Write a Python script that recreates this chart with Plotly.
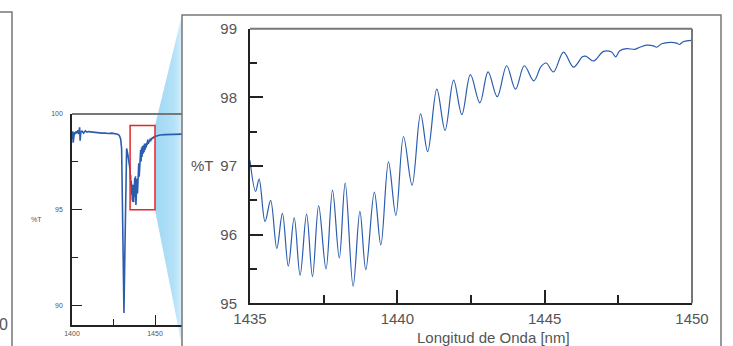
import plotly.graph_objects as go

W, H = 733, 346

# High-resolution scan of the 1435-1450 nm window (%T)
zoom_nm = [1435.00, 1435.19, 1435.31, 1435.51, 1435.70, 1435.91, 1436.10, 1436.30,
           1436.50, 1436.70, 1436.92, 1437.12, 1437.33, 1437.58, 1437.80, 1438.03,
           1438.23, 1438.50, 1438.73, 1438.93, 1439.22, 1439.44, 1439.70, 1439.95,
           1440.21, 1440.50, 1440.79, 1441.03, 1441.34, 1441.62, 1441.91, 1442.19,
           1442.48, 1442.80, 1443.08, 1443.39, 1443.71, 1444.01, 1444.31, 1444.63,
           1444.88, 1445.05, 1445.30, 1445.64, 1445.98, 1446.28, 1446.39, 1446.66,
           1447.00, 1447.27, 1447.41, 1447.55, 1447.78, 1448.06, 1448.23, 1448.46,
           1448.69, 1448.80, 1448.97, 1449.26, 1449.48, 1449.57, 1449.70, 1450.00]
zoom_T = [97.08, 96.63, 96.81, 96.19, 96.50, 95.80, 96.31, 95.54,
          96.25, 95.41, 96.30, 95.39, 96.42, 95.50, 96.65, 95.66,
          96.75, 95.25, 96.34, 95.49, 96.62, 95.85, 97.06, 96.28,
          97.43, 96.72, 97.76, 97.21, 98.12, 97.52, 98.25, 97.75,
          98.33, 97.92, 98.37, 98.01, 98.46, 98.12, 98.46, 98.24,
          98.45, 98.50, 98.37, 98.66, 98.44, 98.59, 98.60, 98.53,
          98.67, 98.66, 98.59, 98.68, 98.71, 98.70, 98.73, 98.76,
          98.75, 98.73, 98.78, 98.80, 98.79, 98.77, 98.81, 98.83]

# Wide survey scan, outside the zoom window
survey_left_nm = [1400.0, 1400.4, 1400.7, 1401.0, 1401.5, 1402.0, 1402.5, 1403.0,
                  1403.6, 1404.0, 1404.6, 1404.9, 1405.3, 1406.0, 1407.0, 1408.0,
                  1409.0, 1410.0, 1412.0, 1414.0, 1416.0, 1418.0, 1420.0, 1422.0,
                  1424.0, 1426.0, 1427.5, 1428.5, 1429.3, 1429.9, 1430.4, 1430.9,
                  1431.3, 1431.8, 1432.3, 1432.9, 1433.6, 1434.3]
survey_left_T = [98.70, 99.10, 98.50, 98.90, 99.05, 98.95, 99.10, 99.00,
                 99.15, 98.95, 99.30, 98.60, 99.05, 99.10, 99.00, 99.12,
                 99.05, 99.08, 99.05, 99.02, 99.03, 99.00, 99.00, 98.98,
                 99.00, 98.97, 98.94, 98.88, 98.70, 98.20, 95.00, 91.50,
                 89.60, 92.50, 95.80, 98.20, 97.90, 97.50]
survey_right_nm = [1451.0, 1453.0, 1456.0, 1460.0, 1463.0, 1467.0]
survey_right_T = [98.86, 98.90, 98.92, 98.93, 98.94, 98.95]

# Zoom window marked on the survey plot
win_nm = [1435, 1450]
win_T = [95, 99.4]

# Axis ticks
main_xticks = [1435, 1440, 1445, 1450]
main_yticks = [95, 96, 97, 98, 99]
survey_xticks = [1400, 1450]
survey_yticks = [90, 95, 100]

LINE_BLUE = "#2b5dad"
TXT = "#555555"
FONT = "Liberation Sans, Arial, sans-serif"

# Layout geometry (pixels)
MAIN_L, MAIN_R, MAIN_T, MAIN_B = 250, 692, 28.7, 303.3
SUR_L, SUR_R, SUR_T, SUR_B = 72, 182, 114, 324.5
SUR_PX_PER_NM = 83 / 50
SUR_XMAX = 1400 + (SUR_R - SUR_L) / SUR_PX_PER_NM
PANEL_L, PANEL_T, PANEL_R = 182, 15, 721


def px(x):
    return x / W


def py(y):
    return 1 - y / H


def sur_px(nm, t):
    """Pixel position of a survey-plot data point."""
    x = SUR_L + (nm - 1400) * SUR_PX_PER_NM
    y = SUR_B - (t - 89) * (SUR_B - SUR_T) / 11
    return x, y


fig = go.Figure()

# Light-blue funnel linking the zoom window to the enlarged panel
bx_top = sur_px(win_nm[1], win_T[1])
bx_bot = sur_px(win_nm[1], win_T[0])
fx = [bx_top[0], PANEL_L, PANEL_L, bx_bot[0], bx_top[0]]
fy = [bx_top[1], PANEL_T, H, bx_bot[1], bx_top[1]]
fig.add_trace(go.Scatter(
    x=fx, y=fy, mode="lines", fill="toself", line=dict(width=0),
    fillgradient=dict(type="horizontal",
                      colorscale=[[0, "#9fd8f4"], [0.7, "#b4e1f8"], [1, "#d6eefb"]]),
    hoverinfo="skip", showlegend=False, xaxis="x", yaxis="y"))

# Survey spectrum
fig.add_trace(go.Scatter(
    x=survey_left_nm + zoom_nm + survey_right_nm,
    y=survey_left_T + zoom_T + survey_right_T,
    mode="lines", line=dict(color=LINE_BLUE, width=1.6),
    hoverinfo="skip", showlegend=False, xaxis="x2", yaxis="y2"))

# Enlarged spectrum
fig.add_trace(go.Scatter(
    x=zoom_nm, y=zoom_T, mode="lines",
    line=dict(color=LINE_BLUE, width=1.2, shape="spline", smoothing=1.0),
    hoverinfo="skip", showlegend=False, xaxis="x3", yaxis="y3"))

axis_common = dict(showgrid=False, zeroline=False, showline=True,
                   linecolor="#222", ticks="inside", tickcolor="#222")

fig.update_layout(
    width=W, height=H,
    margin=dict(l=0, r=0, t=0, b=0, pad=0, autoexpand=False),
    paper_bgcolor="white", plot_bgcolor="rgba(0,0,0,0)",
    font=dict(family=FONT, color=TXT),
    xaxis=dict(domain=[0, 1], range=[0, W], visible=False, fixedrange=True),
    yaxis=dict(domain=[0, 1], range=[H, 0], visible=False, fixedrange=True),
    xaxis2=dict(domain=[px(SUR_L), px(SUR_R)], range=[1400, SUR_XMAX],
                anchor="y2", tickvals=survey_xticks, ticklen=10, tickwidth=1.2,
                linewidth=1.5, tickfont=dict(size=7, color=TXT),
                ticklabelstandoff=1,
                minor=dict(ticks="inside", ticklen=6, tickcolor="#222",
                           tickvals=[1425]),
                **axis_common),
    yaxis2=dict(domain=[py(SUR_B), py(SUR_T)], range=[89, 100],
                anchor="x2", tickvals=survey_yticks, ticklen=10, tickwidth=1.2,
                linewidth=1.5, tickfont=dict(size=7, color=TXT),
                ticklabelstandoff=6,
                minor=dict(ticks="inside", ticklen=6, tickcolor="#222",
                           tickvals=[92.5, 97.5]),
                **axis_common),
    xaxis3=dict(domain=[px(MAIN_L), px(MAIN_R)], range=[1435, 1450],
                anchor="y3", tickvals=main_xticks, ticklen=13, tickwidth=1.5,
                linewidth=2, tickfont=dict(size=15, color=TXT),
                ticklabelstandoff=1,
                minor=dict(ticks="inside", ticklen=8, tickcolor="#222",
                           dtick=2.5, tick0=1435),
                **axis_common),
    yaxis3=dict(domain=[py(MAIN_B), py(MAIN_T)], range=[95, 99],
                anchor="x3", tickvals=main_yticks, ticklen=13, tickwidth=1.5,
                linewidth=2, tickfont=dict(size=15, color=TXT),
                ticklabelstandoff=8,
                minor=dict(ticks="inside", ticklen=7, tickcolor="#222",
                           dtick=0.5, tick0=95),
                **axis_common),
)

shapes = [
    # left neighbouring panel edge
    dict(type="rect", xref="paper", yref="paper", x0=px(-10), x1=px(12),
         y0=py(H + 5), y1=py(12), line=dict(color="#777", width=1.5)),
    # enlarged panel frame
    dict(type="rect", xref="paper", yref="paper", x0=px(PANEL_L), x1=px(PANEL_R),
         y0=py(H + 5), y1=py(PANEL_T), line=dict(color="#777", width=1.5)),
    # survey plot top edge
    dict(type="line", xref="paper", yref="paper", x0=px(SUR_L), x1=px(SUR_R),
         y0=py(SUR_T), y1=py(SUR_T), line=dict(color="#777", width=2)),
    # enlarged plot top and right edges
    dict(type="line", xref="paper", yref="paper", x0=px(MAIN_L), x1=px(MAIN_R),
         y0=py(MAIN_T), y1=py(MAIN_T), line=dict(color="#777", width=2)),
    dict(type="line", xref="paper", yref="paper", x0=px(MAIN_R), x1=px(MAIN_R),
         y0=py(MAIN_B), y1=py(MAIN_T), line=dict(color="#777", width=2)),
    # zoom window marker
    dict(type="rect", xref="x2", yref="y2", x0=win_nm[0], x1=win_nm[1],
         y0=win_T[0], y1=win_T[1], line=dict(color="#e8262a", width=1.5)),
]
fig.update_layout(shapes=shapes)

annotations = [
    dict(text="%T", x=px(202), y=py(166), font=dict(size=15, color=TXT)),
    dict(text="%T", x=px(36), y=py(219), font=dict(size=7, color=TXT)),
    dict(text="Longitud de Onda [nm]", x=px(493), y=py(337.5),
         font=dict(size=15, color=TXT)),
    dict(text="0", x=px(9.5), y=py(324), xanchor="right",
         font=dict(size=16, color=TXT)),
]
for a in annotations:
    a.update(xref="paper", yref="paper", showarrow=False)
    a.setdefault("xanchor", "center")
    a.setdefault("yanchor", "middle")
fig.update_layout(annotations=annotations)

fig.write_html("out.html")
